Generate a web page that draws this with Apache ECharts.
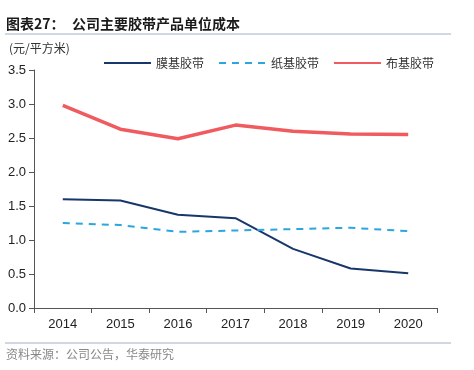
<!DOCTYPE html>
<html><head><meta charset="utf-8">
<script src="https://cdn.jsdelivr.net/npm/echarts@6/dist/echarts.min.js"></script>
<style>html,body{margin:0;padding:0;background:#fff}#c{width:474px;height:370px}</style>
</head><body><div id="c"></div>
<script>
const categories = ['2014','2015','2016','2017','2018','2019','2020'];
const filmTape = [1.60,1.58,1.37,1.32,0.87,0.58,0.51];
const paperTape = [1.25,1.22,1.12,1.14,1.16,1.18,1.13];
const clothTape = [2.98,2.63,2.49,2.69,2.60,2.56,2.55];
const seriesNames = ['膜基胶带','纸基胶带','布基胶带'];

const chart = echarts.init(document.getElementById('c'));
const font = '"Noto Sans CJK SC", sans-serif';
chart.setOption({
  animation:false,
  graphic:[
    {type:'text',left:6,top:17,style:{text:'图表27：',font:'bold 14px "Noto Sans CJK SC"',fill:'#1a1a1a'}},
    {type:'text',left:72,top:17,style:{text:'公司主要胶带产品单位成本',font:'bold 14px "Noto Sans CJK SC"',fill:'#1a1a1a'}},
    {type:'line',shape:{x1:5,y1:34,x2:451,y2:34},style:{stroke:'#9fb0c8',lineWidth:1}},
    {type:'text',left:9,top:42,style:{text:'(元/平方米)',font:'12px "Noto Sans CJK SC"',fill:'#333'}},
    {type:'line',shape:{x1:5,y1:343,x2:451,y2:343},style:{stroke:'#9fb0c8',lineWidth:1}},
    {type:'text',left:6,top:348,style:{text:'资料来源：公司公告，华泰研究',font:'12px "Noto Sans CJK SC"',fill:'#888'}}
  ],
  legend:{
    top:52,left:98,itemWidth:47,itemHeight:12,itemGap:14,
    itemStyle:{opacity:0},
    textStyle:{fontFamily:font,fontSize:12,color:'#333'},
    data:seriesNames
  },
  grid:{left:34,right:37,top:70,bottom:62},
  xAxis:{
    type:'category',data:categories,boundaryGap:true,
    axisLine:{lineStyle:{color:'#555',width:1}},
    axisTick:{show:true,length:5,lineStyle:{color:'#555'}},
    axisLabel:{color:'#222',fontSize:13,fontFamily:'Liberation Sans, Arial',margin:10}
  },
  yAxis:{
    type:'value',min:0,max:3.5,interval:0.5,
    axisLine:{show:true,lineStyle:{color:'#555',width:1}},
    axisTick:{show:true,length:5,lineStyle:{color:'#555'}},
    splitLine:{show:false},
    axisLabel:{color:'#222',fontSize:13,fontFamily:'Liberation Sans, Arial',margin:8,formatter:v=>v.toFixed(1)}
  },
  series:[
    {name:seriesNames[0],type:'line',data:filmTape,symbol:'none',lineStyle:{color:'#17376b',width:2},itemStyle:{color:'#17376b'}},
    {name:seriesNames[1],type:'line',data:paperTape,symbol:'none',lineStyle:{color:'#2ba6de',width:2,type:[7,6]},itemStyle:{color:'#2ba6de'}},
    {name:seriesNames[2],type:'line',data:clothTape,symbol:'none',lineStyle:{color:'#ef5b5e',width:3.5},itemStyle:{color:'#ef5b5e'}}
  ]
});
</script></body></html>
